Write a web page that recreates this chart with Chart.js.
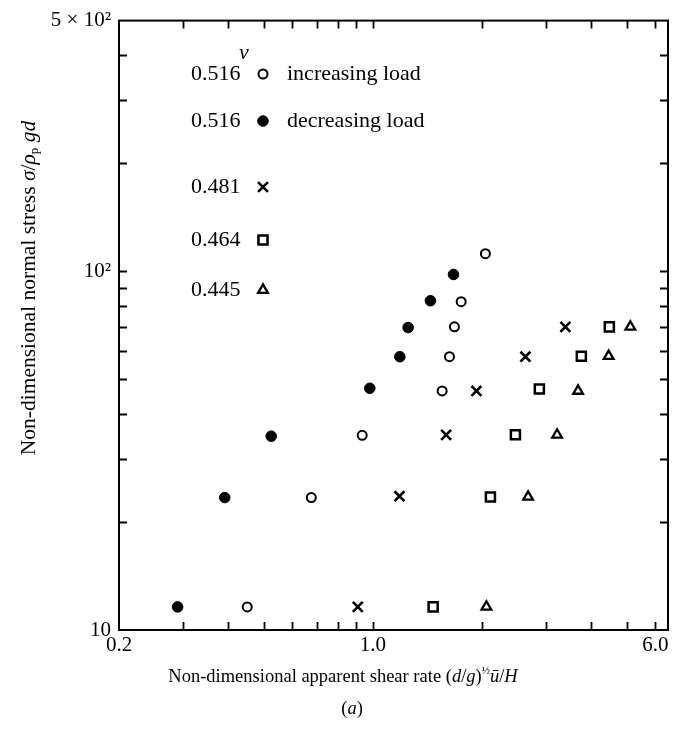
<!DOCTYPE html>
<html>
<head>
<meta charset="utf-8">
<script src="https://cdn.jsdelivr.net/npm/chart.js@4.4.0/dist/chart.umd.min.js"></script>
<style>
html, body { margin: 0; padding: 0; background: #fff; }
#wrap { width: 684px; height: 730px; }
</style>
</head>
<body>
<div id="wrap"><canvas id="myChart" width="684" height="730"></canvas></div>
<script>
// shear rate (x) and normal stress (y), one pair per solids fraction
const incX = [0.451, 0.677, 0.935, 1.552, 1.626, 1.678, 1.751, 2.042];
const incY = [11.6, 23.4, 34.9, 46.4, 57.8, 70.0, 82.3, 112];
const decX = [0.290, 0.391, 0.525, 0.981, 1.187, 1.251, 1.441, 1.668];
const decY = [11.6, 23.4, 34.7, 47.2, 57.8, 69.7, 82.8, 98];
const x481 = [0.909, 1.184, 1.592, 1.929, 2.632, 3.391];
const y481 = [11.6, 23.6, 35.0, 46.4, 57.8, 70.0];
const x464 = [1.466, 2.108, 2.470, 2.875, 3.752, 4.481];
const y464 = [11.6, 23.5, 35.0, 47.0, 58.0, 70.0];
const x445 = [2.055, 2.677, 3.217, 3.675, 4.461, 5.119];
const y445 = [11.6, 23.5, 35.0, 46.4, 58.0, 70.0];

// tick positions and the few that carry a label
const xTicks = [0.2, 0.3, 0.4, 0.5, 0.6, 0.7, 0.8, 0.9, 1, 2, 3, 4, 5, 6];
const xLabels = { 0.2: '0.2', 1: '1.0', 6: '6.0' };
const yTicks = [10, 20, 30, 40, 50, 60, 70, 80, 90, 100, 200, 300, 400, 500];
const yLabels = { 10: '10', 100: '10²', 500: '5 × 10²' };

// legend rows
const nuValues = ['0.516', '0.516', '0.481', '0.464', '0.445'];
const nuNotes = ['increasing load', 'decreasing load', '', '', ''];

const SERIF = '"Liberation Serif", "DejaVu Serif", serif';

function pairs(xs, ys) {
    return xs.map((x, i) => ({ x: x, y: ys[i] }));
}

// marker look for each series (also reused in the legend)
const markers = [
    { pointStyle: 'circle', radius: 4.5, borderWidth: 2, fill: '#fff' },
    { pointStyle: 'circle', radius: 5.3, borderWidth: 1, fill: '#000' },
    { pointStyle: 'crossRot', radius: 7, borderWidth: 2.6, fill: '#000' },
    { pointStyle: 'rect', radius: 6.4, borderWidth: 2.5, fill: '#fff' },
    { pointStyle: 'triangle', radius: 5.6, borderWidth: 2.3, fill: '#fff' }
];

const seriesData = [pairs(incX, incY), pairs(decX, decY), pairs(x481, y481), pairs(x464, y464), pairs(x445, y445)];

const datasets = seriesData.map((d, i) => ({
    label: nuValues[i] + ' ' + nuNotes[i],
    data: d,
    pointStyle: markers[i].pointStyle,
    pointRadius: markers[i].radius,
    pointBorderWidth: markers[i].borderWidth,
    pointBackgroundColor: markers[i].fill,
    pointBorderColor: '#000',
    showLine: false
}));

// draw text made of pieces with different fonts (italic letters, sub/superscripts)
function drawRich(ctx, segs, cx, cy) {
    let total = 0;
    segs.forEach(s => { ctx.font = s.font; total += ctx.measureText(s.t).width; });
    let x = cx - total / 2;
    ctx.textAlign = 'left';
    ctx.textBaseline = 'middle';
    segs.forEach(s => {
        ctx.font = s.font;
        ctx.fillText(s.t, x, cy + (s.dy || 0));
        x += ctx.measureText(s.t).width;
    });
}

function markerAt(ctx, m, x, y) {
    ctx.save();
    ctx.fillStyle = m.fill;
    ctx.strokeStyle = '#000';
    ctx.lineWidth = m.borderWidth;
    if (Chart.helpers && Chart.helpers.drawPoint) {
        Chart.helpers.drawPoint(ctx, { pointStyle: m.pointStyle, radius: m.radius, borderWidth: m.borderWidth, rotation: 0 }, x, y);
    }
    ctx.restore();
}

const framePlugin = {
    id: 'frame',
    afterDraw(chart) {
        const ctx = chart.ctx;
        const a = chart.chartArea;
        const xs = chart.scales.x;
        const ys = chart.scales.y;
        const tl = 8;
        ctx.save();
        ctx.strokeStyle = '#000';
        ctx.lineWidth = 2;
        ctx.strokeRect(a.left, a.top, a.right - a.left, a.bottom - a.top);

        // inward ticks on all four sides
        ctx.lineWidth = 1.8;
        ctx.beginPath();
        xTicks.forEach(v => {
            if (v === xs.min) return;
            const px = Math.round(xs.getPixelForValue(v)) + 0.5;
            ctx.moveTo(px, a.bottom); ctx.lineTo(px, a.bottom - tl);
            ctx.moveTo(px, a.top); ctx.lineTo(px, a.top + tl);
        });
        yTicks.forEach(v => {
            if (v === ys.min || v === ys.max) return;
            const py = Math.round(ys.getPixelForValue(v)) + 0.5;
            ctx.moveTo(a.left, py); ctx.lineTo(a.left + tl, py);
            ctx.moveTo(a.right, py); ctx.lineTo(a.right - tl, py);
        });
        ctx.stroke();

        ctx.fillStyle = '#000';
        const leg = '22px ' + SERIF;
        const reg = '18.5px ' + SERIF;
        const ita = 'italic 18.5px ' + SERIF;
        const sm = '11px ' + SERIF;

        // legend block inside the plot
        drawRich(ctx, [{ t: 'ν', font: 'italic 22px ' + SERIF }], 244, 53);
        const rowY = [74, 121, 187, 240, 290];
        rowY.forEach((y, i) => {
            ctx.font = leg;
            ctx.textAlign = 'left';
            ctx.textBaseline = 'middle';
            ctx.fillText(nuValues[i], 191, y);
            markerAt(ctx, markers[i], 263, y);
            if (nuNotes[i]) ctx.fillText(nuNotes[i], 287, y);
        });

        // x axis title and panel caption
        drawRich(ctx, [
            { t: 'Non-dimensional apparent shear rate (', font: reg },
            { t: 'd', font: ita },
            { t: '/', font: reg },
            { t: 'g', font: ita },
            { t: ')', font: reg },
            { t: '½', font: sm, dy: -6 },
            { t: 'ū', font: ita },
            { t: '/', font: reg },
            { t: 'H', font: ita }
        ], 343, 677);
        drawRich(ctx, [
            { t: '(', font: reg },
            { t: 'a', font: ita },
            { t: ')', font: reg }
        ], 352, 709);

        // y axis title, rotated
        const yreg = '21.5px ' + SERIF;
        const yita = 'italic 21.5px ' + SERIF;
        ctx.translate(29, 288);
        ctx.rotate(-Math.PI / 2);
        drawRich(ctx, [
            { t: 'Non-dimensional normal stress ', font: yreg },
            { t: 'σ', font: yita },
            { t: '/', font: yreg },
            { t: 'ρ', font: yita },
            { t: 'p', font: '13px ' + SERIF, dy: 6 },
            { t: ' ', font: yreg },
            { t: 'gd', font: yita }
        ], 0, 0);
        ctx.restore();
    }
};

const ctx = document.getElementById('myChart').getContext('2d');
new Chart(ctx, {
    type: 'scatter',
    data: { datasets: datasets },
    options: {
        responsive: false,
        animation: false,
        layout: { padding: { top: 15, right: 16, left: 0, bottom: 0 } },
        plugins: {
            legend: { display: false },
            tooltip: { enabled: false }
        },
        scales: {
            x: {
                type: 'logarithmic',
                min: 0.2,
                max: 6.5,
                grid: { display: false, drawTicks: false },
                border: { display: false },
                afterBuildTicks: s => { s.ticks = xTicks.map(v => ({ value: v })); },
                afterFit: s => { s.height = 100; },
                ticks: {
                    autoSkip: false,
                    maxRotation: 0,
                    padding: 3,
                    color: '#000',
                    font: { family: SERIF, size: 21 },
                    callback: v => xLabels[v] || ''
                }
            },
            y: {
                type: 'logarithmic',
                min: 10,
                max: 500,
                grid: { display: false, drawTicks: false },
                border: { display: false },
                afterBuildTicks: s => { s.ticks = yTicks.map(v => ({ value: v })); },
                afterFit: s => { s.width = 119; },
                ticks: {
                    autoSkip: false,
                    padding: 8,
                    color: '#000',
                    font: { family: SERIF, size: 21 },
                    callback: v => yLabels[v] || ''
                }
            }
        }
    },
    plugins: [framePlugin]
});
</script>
</body>
</html>
